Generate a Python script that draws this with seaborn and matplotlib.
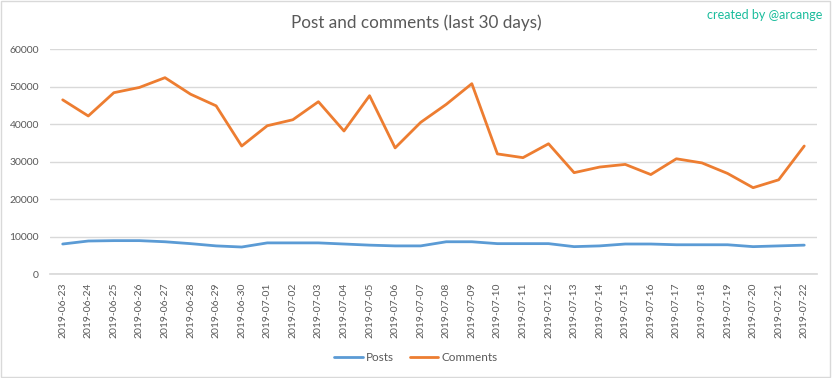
import matplotlib
matplotlib.use("Agg")
import matplotlib.pyplot as plt
import pandas as pd
import seaborn as sns
from matplotlib.patches import Rectangle

# 数据
dates = [
    "2019-06-23", "2019-06-24", "2019-06-25", "2019-06-26", "2019-06-27",
    "2019-06-28", "2019-06-29", "2019-06-30", "2019-07-01", "2019-07-02",
    "2019-07-03", "2019-07-04", "2019-07-05", "2019-07-06", "2019-07-07",
    "2019-07-08", "2019-07-09", "2019-07-10", "2019-07-11", "2019-07-12",
    "2019-07-13", "2019-07-14", "2019-07-15", "2019-07-16", "2019-07-17",
    "2019-07-18", "2019-07-19", "2019-07-20", "2019-07-21", "2019-07-22",
]
posts = [
    8100, 8900, 9000, 9000, 8700, 8200, 7600, 7300, 8400, 8400,
    8400, 8100, 7800, 7600, 7600, 8700, 8700, 8200, 8200, 8200,
    7400, 7600, 8100, 8100, 7900, 7900, 7900, 7400, 7600, 7800,
]
comments = [
    46500, 42200, 48400, 49800, 52400, 48000, 44900, 34200, 39600, 41200,
    46000, 38200, 47600, 33700, 40500, 45300, 50800, 32100, 31100, 34800,
    27100, 28600, 29300, 26600, 30800, 29700, 26900, 23100, 25200, 34200,
]
series_names = ["Posts", "Comments"]
colors = ["#5B9BD5", "#ED7D31"]

df = pd.DataFrame({
    "date": dates * 2,
    "value": posts + comments,
    "series": [series_names[0]] * len(dates) + [series_names[1]] * len(dates),
})

sns.set_theme(style="white")
plt.rcParams["font.family"] = ["Lato", "DejaVu Sans"]
text_color = "#595959"

fig = plt.figure(figsize=(8.32, 3.78), dpi=100)
ax = fig.add_axes([0.060, 0.274, 0.922, 0.596])

sns.lineplot(data=df, x="date", y="value", hue="series",
             palette=dict(zip(series_names, colors)), linewidth=2, ax=ax)

ax.set_xlim(-0.5, len(dates) - 0.5)
ax.set_ylim(0, 60000)
ax.set_yticks(range(0, 60001, 10000))
ax.yaxis.grid(True, color="#D9D9D9", linewidth=1)
ax.xaxis.grid(False)
for side in ["top", "right", "left"]:
    ax.spines[side].set_visible(False)
ax.spines["bottom"].set_color("#D9D9D9")
ax.set_xlabel("")
ax.set_ylabel("")
ax.tick_params(axis="both", length=0, labelsize=7.5, colors=text_color)
ax.tick_params(axis="y", pad=8)
ax.tick_params(axis="x", pad=6)
plt.setp(ax.get_xticklabels(), rotation=90)

ax.legend(loc="center", bbox_to_anchor=(0.5, 0.053), bbox_transform=fig.transFigure,
          ncol=2, frameon=False, fontsize=8.5, handlelength=2.4, columnspacing=1.3,
          handletextpad=0.3, labelcolor=text_color)

fig.text(0.5, 0.94, "Post and comments (last 30 days)", ha="center", va="center",
         fontsize=12.3, color=text_color)
fig.text(0.988, 0.96, "created by @arcange", ha="right", va="center",
         fontsize=9, color="#1ABC9C")

fig.patches.append(Rectangle((0.001, 0.002), 0.997, 0.995, transform=fig.transFigure,
                             fill=False, edgecolor="#D9D9D9", linewidth=1))

fig.savefig("out.png", dpi=100, facecolor="white")
